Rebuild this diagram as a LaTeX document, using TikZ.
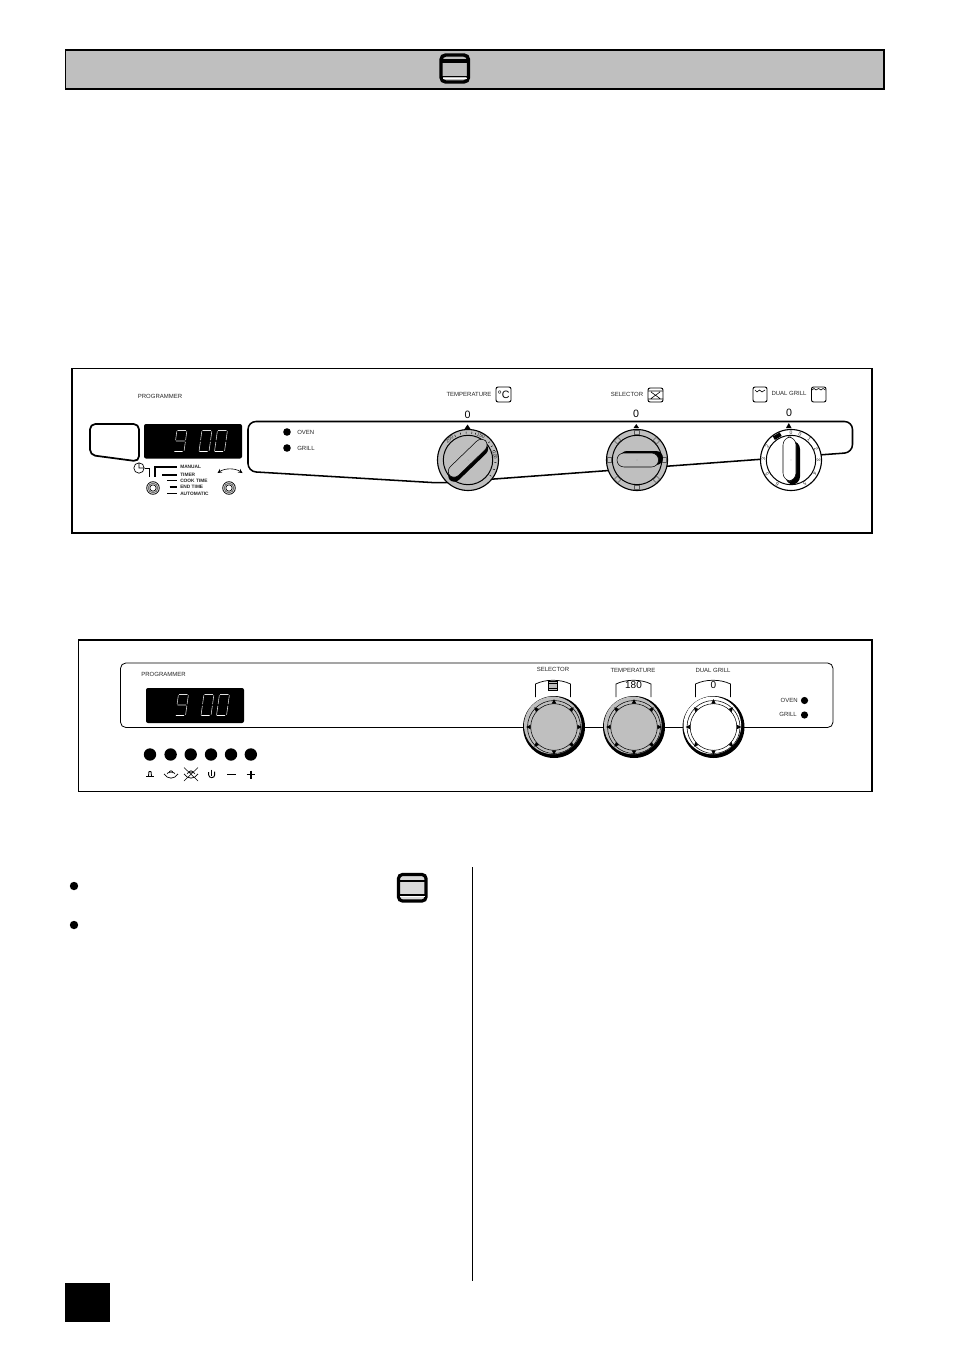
\documentclass[tikz,border=0pt]{standalone}
\usepackage{fontspec}
\setmainfont{Liberation Sans}
\definecolor{panelgrey}{HTML}{BFBFBF}
\newcommand{\fs}[1]{\fontsize{#1}{#1}\selectfont}
\tikzset{
  lab/.style={inner sep=0pt,font=\fs{4.5},text=black!85},
  tiny lab/.style={inner sep=0pt,font=\fs{3.6}\bfseries,text=black!85,anchor=west},
  dial num/.style={inner sep=0pt,font=\fs{3.8},text=black!85,transform shape},
  zero lab/.style={inner sep=0pt,font=\fs{8}},
  frame/.style={draw=black,line width=1.1pt},
  seg/.style={draw=white!88!black,line width=.42pt,line cap=round},
  segb/.style={draw=white,line width=.85pt,line cap=round},
  icon box/.style={draw=black,line width=.7pt,rounded corners=1.5pt},
}
\newcommand{\digzero}[1]{\begin{scope}[shift={#1},xslant=.14]
  \draw[seg] (1,-.3)--(1,-9.5) (1,-11.5)--(1,-20) (1.8,-21)--(10,-21) (11,-20)--(11,-11.5) (11,-9.5)--(11,-.8);
  \draw[segb] (1.8,0)--(9.2,0);
  \end{scope}}
\newcommand{\dignine}[1]{\begin{scope}[shift={#1},xslant=.14]
  \draw[seg] (1,-11.5)--(1,-20) (1.8,-21)--(10,-21) (11,-20)--(11,-11.5) (11,-9.5)--(11,-.8) (1.8,-10.5)--(10,-10.5);
  \draw[segb] (1.8,0)--(9.2,0);
  \end{scope}}
\newcommand{\ringA}[3]{\path[draw=black,line width=.85pt,fill=#3] (#1,#2) circle (30.5);
  \path[draw=black,line width=.75pt,fill=#3] (#1,#2) circle (24.7);}
\newcommand{\knobB}[3]{
  \fill[black] (#1,#2) circle (31);
  \fill[#3] (#1-1.2,#2-1.6) circle (28.8);
  \draw[black,line width=.4pt] (#1,#2) circle (26.5) (#1,#2) circle (23.3);
  \foreach \a in {0,45,...,315}{
    \begin{scope}[shift={(#1,#2)},rotate=\a]
      \fill[black] (-2.2,-23.4)--(2.2,-23.4)--(0,-27.8)--cycle;
    \end{scope}}
  \fill[black] (#1-1.9,#2-23.6) arc[start angle=180,end angle=360,radius=1.9]--cycle;
}
\newcommand{\tabshape}[1]{\path[draw=black,line width=.55pt,fill=white] (#1,697)--(#1,684) .. controls (#1+10,679) and (#1+25,679) .. (#1+35,684)--(#1+35,697);}
\begin{document}
\begin{tikzpicture}[x=.75pt,y=-.75pt]
\useasboundingbox (0,0) rectangle (954,1351);
\fill[white] (0,0) rectangle (954,1351);
% ---- header
\path[draw=black,line width=1.4pt,fill=panelgrey] (65.5,50) rectangle (884,89);
\draw[black,line width=2.6pt,rounded corners=3.5pt] (441,55) rectangle (468.5,82);
\draw[black,line width=2.4pt] (441,61)--(468.5,61);
\draw[black,line width=1.1pt] (441,76.5)--(468.5,76.5);
\draw[white,line width=.4pt] (443,78.3)--(467,78.3);
% ---- panel 1
\draw[frame] (72,368.5) rectangle (872,533);
\node[lab] (progA) at (160,396.5) {PROGRAMMER};
\draw[black,line width=1.3pt,rounded corners=4pt] (90,424)--(139,424)--(139,461.5)--(90,455)--cycle;
\fill[black,rounded corners=1.5pt] (144,424) rectangle (242,458.5);
\dignine{(173,451.5)}\digzero{(198,451.5)}\digzero{(213.5,451.5)}
\draw[black,line width=1.15pt,rounded corners=6pt] (248,421.5)--(852.5,421.5)--(852.5,452.5)--(440,483)--(248,471.5)--cycle;
\fill[black] (287,432) circle (3.8) (287,448) circle (3.8);
\node[lab,anchor=west] (ovenA) at (297,432) {OVEN};
\node[lab,anchor=west] (grillA) at (297,448.5) {GRILL};
% timer group
\draw[black,line width=.5pt] (139,468) circle (5.2) (139,463)--(139,468)--(144,468);
\draw[black,line width=.75pt] (145,468.5)--(149,468.5)--(149,476.5);
\draw[black,line width=1pt] (155,476.5)--(155,467)--(177,467);
\draw[black,line width=1pt] (162,475)--(177,475) (167,480.5)--(177,480.5) (169.5,487)--(177,487) (167,493.5)--(177,493.5);
\node[tiny lab] (tmA) at (180,467) {MANUAL};
\node[tiny lab] (tmB) at (180,474.5) {TIMER};
\node[tiny lab] (tmC) at (180,480.8) {COOK TIME};
\node[tiny lab] (tmD) at (180,487) {END TIME};
\node[tiny lab] (tmE) at (180,493.7) {AUTOMATIC};
\foreach \x in {153,229}{
  \draw[black,line width=.6pt] (\x,488) circle (6.3);
  \draw[black!55,line width=.8pt] (\x,488) circle (4.8);
  \draw[black,line width=.5pt] (\x,488) circle (3.2);}
\draw[black,line width=.45pt,stealth-stealth] (217.5,473) .. controls (225,468) and (235,468) .. (242.5,473);
% temperature knob
\node[lab] (tempA) at (469,394.5) {TEMPERATURE};
\draw[icon box] (496,387) rectangle (511,402);
\node[inner sep=0pt,font=\fs{8}] (degC) at (503.5,394.8) {°C};
\node[zero lab] (zA) at (467.5,415) {0};
\fill[black] (464.5,429)--(470.5,429)--(467.5,424.5)--cycle;
\ringA{468}{460}{panelgrey}
\foreach \a/\t in {-42/200,28/150,80/100}{
  \begin{scope}[shift={(468,460)},rotate=-\a]
    \node[dial num] (d\t) at (0,-27.5) {\t};
  \end{scope}}
\foreach \a in {-28,-16,-4,8,16,50,60,70,95,110,125}{
  \begin{scope}[shift={(468,460)},rotate=-\a]
    \draw[black,line width=.35pt] (0,-26.5)--(0,-28.5);
  \end{scope}}
\begin{scope}[shift={(468,460)},rotate=44]
  \path[fill=black,rounded corners=5pt] (-27,-4.5) rectangle (24,8);
  \path[draw=black,line width=.4pt,fill=panelgrey,rounded corners=5pt] (-24,-7.5) rectangle (26,4.5);
  \fill[black!60] (0,0) circle (.35);
\end{scope}
% selector knob
\node[lab] (selA) at (627,394.5) {SELECTOR};
\draw[icon box] (648,388) rectangle (663,402);
\draw[black,line width=.45pt] (648,391)--(663,391) (648,399)--(663,399) (651,392)--(660,398.5) (660,392)--(651,398.5);
\node[zero lab] (zB) at (636,414) {0};
\fill[black] (633.5,428)--(639,428)--(636.3,424)--cycle;
\ringA{637}{460}{panelgrey}
\foreach \a in {0,45,...,315}{
  \begin{scope}[shift={(637,460)},rotate=\a]
    \draw[black!65,line width=.35pt,fill=black!22] (-2.5,-29.5) rectangle (2.5,-25.5);
  \end{scope}}
\begin{scope}[shift={(637,460)}]
  \path[fill=black,rounded corners=5.2pt] (-17,-9) rectangle (26,5);
  \path[draw=black,line width=.4pt,fill=panelgrey,rounded corners=5.2pt] (-20,-7) rectangle (21.5,7);
  \fill[black!60] (0,0) circle (.35);
\end{scope}
% dual grill knob
\draw[icon box] (753,387) rectangle (767,402);
\draw[black,line width=.45pt] (755,390)--(757,392)--(759.5,390)--(762,392)--(765,390);
\node[lab] (dualA) at (789,393.5) {DUAL GRILL};
\draw[icon box] (811.5,387) rectangle (826,402);
\draw[black,line width=.45pt] (812,390)--(814,388.5)--(816,390)--(818.5,388.5)--(821,390)--(823,388.5)--(825.5,390);
\node[zero lab] (zC) at (789,413) {0};
\fill[black] (786,428)--(791.5,428)--(788.8,423)--cycle;
\ringA{791}{460}{white}
\foreach \a/\t/\n in {0/0/a,19/0/b,42/1/c,66/2/d,90/3/e,120/4/f,150/5/g,210/6/h,240/5/i,272/3/j,300/2/k}{
  \begin{scope}[shift={(791,460)},rotate=-\a]
    \node[dial num] (g\n) at (0,-27.5) {\t};
  \end{scope}}
\begin{scope}[shift={(791,460)},rotate=30]
  \fill[black] (-4,-29.5) rectangle (4,-25.5);
\end{scope}
\begin{scope}[shift={(791,460)}]
  \path[fill=black,rounded corners=6pt] (-5.5,-19) rectangle (9,24.5);
  \path[draw=black,line width=.4pt,fill=white,rounded corners=6pt] (-8,-23) rectangle (5,21);
  \fill[black!60] (0,0) circle (.35);
\end{scope}
% ---- panel 2
\draw[frame] (78.5,640) rectangle (872,791.5);
\draw[black,line width=.6pt,rounded corners=4pt] (120.5,663)--(833,663)--(833,727.5)--(120.5,727.5)--cycle;
\node[lab] (progB) at (163.5,674) {PROGRAMMER};
\fill[black,rounded corners=1.5pt] (146,688) rectangle (244,723);
\dignine{(174.5,715.5)}\digzero{(200,715.5)}\digzero{(215.5,715.5)}
\foreach \x in {150,170.6,190.7,211,231,250.8}{
  \fill[black] (\x,754.5) circle (6.2);}
% button symbols
\draw[black,line width=.65pt,line join=round] (148.5,776)--(149,771.5)--(151,771.5)--(151.5,776);
\draw[black,line width=.8pt] (146,776.8)--(154,776.8);
\foreach \x in {171,191}{
  \draw[black,line width=.55pt] (\x-7,774) .. controls (\x-3,779.5) and (\x+3,779.5) .. (\x+7,774);
  \draw[black,line width=.45pt] (\x-4,774) .. controls (\x-4,771.5) and (\x+4,771.5) .. (\x+4,774)
     (\x-2,773) .. controls (\x-2,770) and (\x+2,770) .. (\x+2,773);}
\draw[black,line width=.4pt] (184,767.5)--(198,781) (198,767.5)--(184,781);
\draw[black,line width=.7pt] (208.7,772)--(208.7,775) .. controls (208.7,778.5) and (214.7,778.5) .. (214.7,775)--(214.7,771.5);
\draw[black,line width=.9pt] (211.8,769.5)--(211.8,776);
\draw[black,line width=1.3pt] (227,774.5)--(236,774.5);
\draw[black,line width=1.3pt] (246.5,774.5)--(255,774.5) (250.8,770.5)--(250.8,778.5);
% tabs
\tabshape{535.5}
\tabshape{616}
\tabshape{695.5}
\node[lab] (selB) at (553,669.8) {SELECTOR};
\node[lab] (tempB) at (633,670) {TEMPERATURE};
\node[lab] (dualB) at (713,670) {DUAL GRILL};
\node[inner sep=0pt,font=\fs{7.5}] (t180) at (633.5,685.5) {180};
\node[inner sep=0pt,font=\fs{7.5}] (t0) at (713.3,685.5) {0};
\draw[black,line width=.6pt,fill=panelgrey] (548,681.5) rectangle (557.5,690);
\draw[black,line width=.9pt] (548,683.5)--(557.5,683.5);
\draw[black,line width=.5pt] (548,688.5)--(557.5,688.5);
\knobB{554}{727}{panelgrey}
\knobB{634}{727}{panelgrey}
\knobB{713.5}{727}{white}
\node[lab,anchor=east] (ovenB) at (798,700.3) {OVEN};
\node[lab,anchor=east] (grillB) at (797,714.8) {GRILL};
\fill[black] (804.5,700.5) circle (3.6) (804.5,715) circle (3.6);
% ---- bottom
\fill[black] (74,886) circle (4.2) (74,925) circle (4.2);
\draw[black,line width=2.4pt,rounded corners=3pt,fill=panelgrey!60] (398.5,874.5) rectangle (426,901);
\draw[black,line width=2.2pt] (398.5,881)--(426,881);
\draw[black,line width=1pt] (398.5,895)--(426,895);
\draw[white,line width=.5pt] (400,896.8)--(424.5,896.8);
\draw[black,line width=.8pt] (472.7,867)--(472.7,1280.5);
\fill[black] (65,1283) rectangle (110,1322);
\end{tikzpicture}
\end{document}
